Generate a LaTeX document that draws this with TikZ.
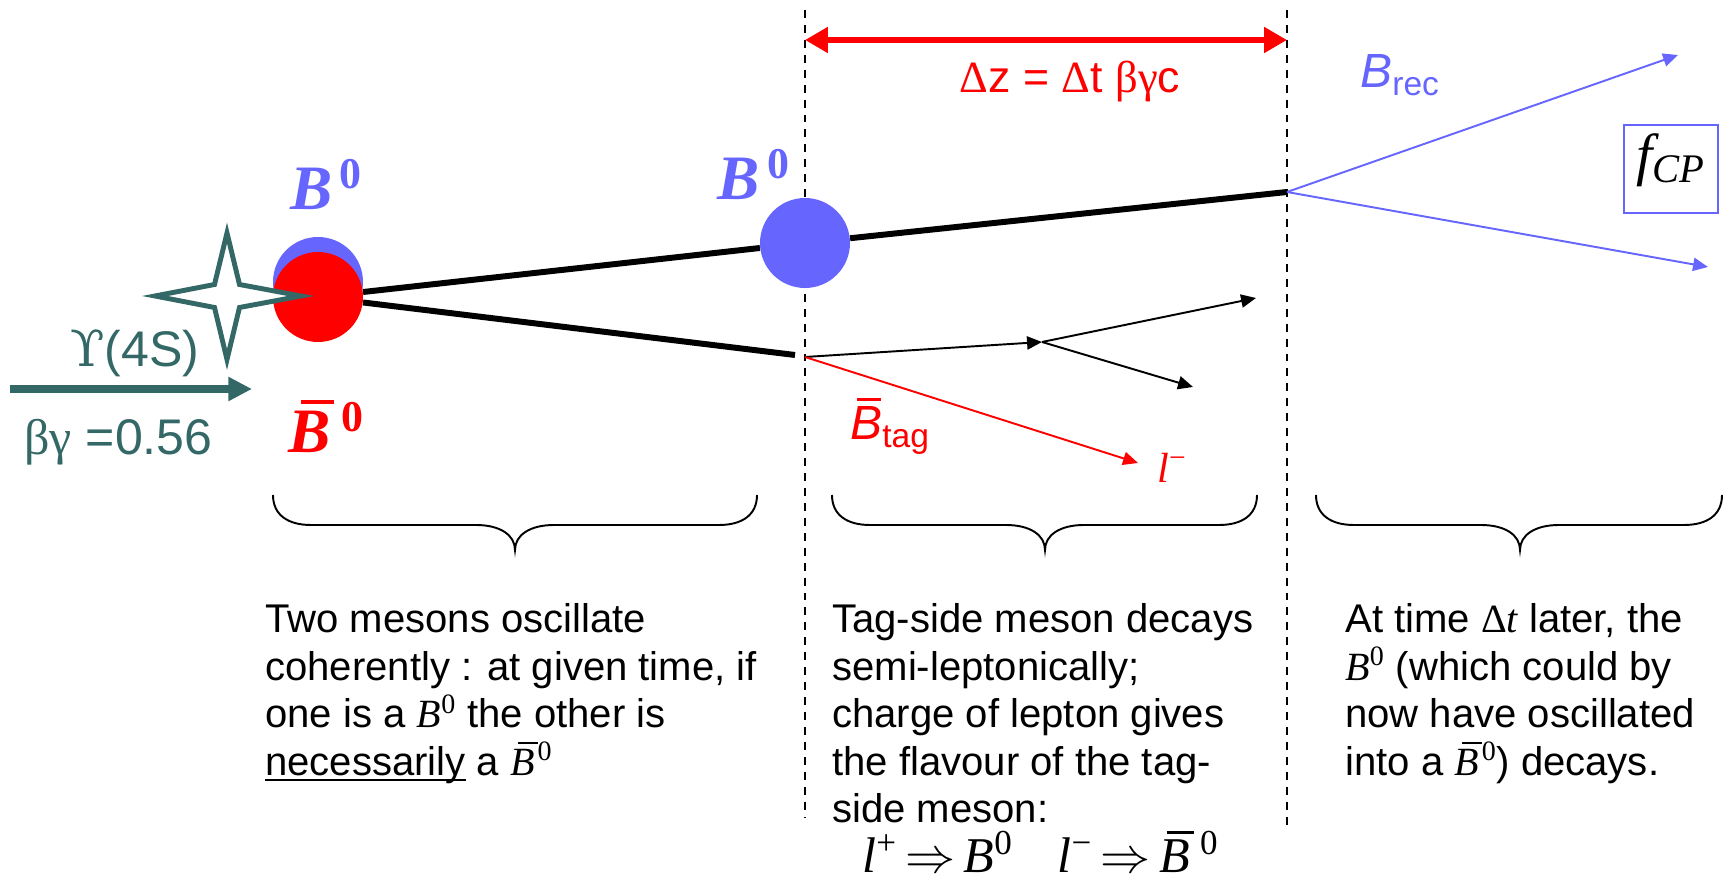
\RequirePackage{fix-cm}
\documentclass[tikz,border=0pt]{standalone}
\usepackage{fontspec}
\setmainfont{Liberation Sans}
\newfontfamily\tms{Liberation Serif}
\newfontfamily\dvs{DejaVu Serif}
\usetikzlibrary{arrows.meta}

\definecolor{bblue}{HTML}{6666FF}
\definecolor{ups}{RGB}{51,104,102}

% bar over a letter, moved right for italics
\newcommand{\obar}[3][.15em]{\vbox{\offinterlineskip\moveright#1\hbox{\vrule height.06em depth0pt width#2}\kern.12em\hbox{#3}}}
\newcommand{\undl}[1]{\setbox0\hbox{#1}\rlap{\vrule height-.1em depth.15em width\wd0}\box0\relax}
\newcommand{\Bz}{{\tms\itshape B}\textsuperscript{\tms 0}}
\newcommand{\Bbz}{\obar[.18em]{.5em}{\tms\itshape B}\textsuperscript{\tms 0}}

\begin{document}
\begin{tikzpicture}[>=Latex,
  tmark/.style={line width=1.1pt,dash pattern=on 4.5pt off 4pt},
  track/.style={line width=3.4pt},
  dk/.style={line width=1.1pt,-{Triangle[length=8.5pt,width=7.5pt]}},
  blob/.style={circle,minimum size=1.8cm,inner sep=0pt},
  curly/.style={line width=1.1pt},
  body/.style={anchor=north west,inner sep=0pt,align=left,font=\fontsize{22.8}{27}\selectfont}]
\useasboundingbox (0,0) rectangle (34.6,-17.68);

% time marks
\coordinate (tL1) at (16.1,-0.2);
\coordinate (tL2) at (16.1,-16.34);
\coordinate (tR1) at (25.74,-0.2);
\coordinate (tR2) at (25.74,-16.56);
\draw[tmark] (tL1)--(tL2);
\draw[tmark] (tR1)--(tR2);
\coordinate (dzL) at (16.1,-0.8);
\coordinate (dzR) at (25.74,-0.8);
\draw[red,line width=3.4pt,{Triangle[length=13pt,width=14pt]}-{Triangle[length=13pt,width=14pt]}] (dzL)--(dzR);
\node[text=red,font=\fontsize{25.4}{26}\selectfont] (dz) at (21.4,-1.64) {{\tms Δ}z = {\tms Δ}t {\tms βγ}c};

% mesons and tracks
\node[blob,fill=bblue] (b0a) at (6.36,-5.64) {};
\node[blob,fill=red] (b0b) at (6.36,-5.94) {};
\node[blob,fill=bblue] (b0c) at (16.1,-4.86) {};
\coordinate (vrec) at (25.74,-3.84);
\coordinate (tagend) at (15.9,-7.1);
\coordinate (vtag) at (16.1,-7.14);
\draw[track] (b0b)--(b0c);
\draw[track] (b0c)--(vrec);
\draw[track] (b0b)--(tagend);

% Upsilon(4S)
\draw[ups,line width=2.8pt,fill=white,shift={(4.54,-5.92)}] (0,1.26)--(0.25,0.23)--(1.48,0)--(0.25,-0.23)--(0,-1.27)--(-0.25,-0.23)--(-1.44,0)--(-0.25,0.23)--cycle;
\coordinate (bst) at (0.2,-7.78);
\coordinate (bend) at (5.04,-7.78);
\draw[ups,line width=4pt,-{Triangle[length=13.5pt,width=13pt]}] (bst)--(bend);
\node[text=ups,font=\fontsize{28.5}{29}\selectfont] (upsl) at (2.7,-7.06) {{\dvs ϒ}(4S)};
\node[text=ups,font=\fontsize{28.5}{29}\selectfont] (bgl) at (2.37,-8.84) {{\tms βγ} =0.56};

% decays
\coordinate (kink) at (20.84,-6.84);
\coordinate (jup) at (25.12,-5.96);
\coordinate (jdn) at (23.86,-7.74);
\coordinate (lep) at (22.76,-9.26);
\coordinate (recup) at (33.56,-1.1);
\coordinate (recdn) at (34.16,-5.34);
\draw[dk] (vtag)--(kink);
\draw[dk] (kink)--(jup);
\draw[dk] (kink)--(jdn);
\draw[dk,red] (vtag)--(lep);
\draw[dk,bblue] (vrec)--(recup);
\draw[dk,bblue] (vrec)--(recdn);

% labels
\node[anchor=base,text=bblue,font=\fontsize{36}{36}\selectfont\tms\bfseries\itshape] (lbB1) at (6.52,-4.2) {B\hspace{.12em}\raisebox{.34em}{\fontsize{25}{25}\selectfont\upshape 0}};
\node[anchor=base,text=bblue,font=\fontsize{36}{36}\selectfont\tms\bfseries\itshape] (lbB2) at (15.07,-4.0) {B\hspace{.12em}\raisebox{.34em}{\fontsize{25}{25}\selectfont\upshape 0}};
\node[anchor=base,text=red,font=\fontsize{36}{36}\selectfont\tms\bfseries\itshape] (lbB3) at (6.52,-9.06) {\obar[.2em]{.52em}{B}\hspace{.12em}\raisebox{.34em}{\fontsize{25}{25}\selectfont\upshape 0}};
\node[anchor=base west,inner sep=0pt,text=bblue,font=\fontsize{27.3}{28}\selectfont] (lbrec) at (27.2,-1.76) {{\itshape B}\textsubscript{rec}};
\node[anchor=base west,inner sep=0pt,text=red,font=\fontsize{27.3}{28}\selectfont] (lbtag) at (17.0,-8.8) {\obar[.14em]{.5em}{\itshape B}\textsubscript{tag}};
\node[anchor=base west,inner sep=0pt,text=red,font=\fontsize{24}{25}\selectfont\tms] (lblep) at (23.14,-9.66) {{\itshape l}\textsuperscript{−}};
\node[draw=bblue,line width=0.9pt,minimum width=1.88cm,minimum height=1.76cm,text height=.75em,text depth=.15em,font=\fontsize{33}{33}\selectfont\tms\itshape] (fcp) at (33.42,-3.38) {f\textsubscript{CP}};

% braces
\foreach \xa/\xm/\xb in {5.46/10.3/15.14,16.64/20.9/25.14,26.32/30.4/34.44}
  \draw[curly] (\xa,-9.9) .. controls (\xa,-10.3) and (\xa+0.3,-10.5) .. (\xa+0.76,-10.5) -- (\xm-0.78,-10.5)
    .. controls (\xm-0.3,-10.5) and (\xm,-10.7) .. (\xm,-11.0)
    .. controls (\xm,-10.7) and (\xm+0.3,-10.5) .. (\xm+0.78,-10.5) -- (\xb-0.76,-10.5)
    .. controls (\xb-0.3,-10.5) and (\xb,-10.3) .. (\xb,-9.9);

% explanations
\node[body] (txt1) at (5.3,-12.07) {Two mesons oscillate\\coherently : at given time, if\\one is a \Bz{} the other is\\\undl{necessarily} a \Bbz};
\node[body] (txt2) at (16.64,-12.07) {Tag-side meson decays\\semi-leptonically;\\charge of lepton gives\\the flavour of the tag-\\side meson:};
\node[body] (txt3) at (26.9,-12.07) {At time {\tms Δ\itshape t} later, the\\\Bz{} (which could by\\now have oscillated\\into a \Bbz) decays.};
\node[anchor=base west,inner sep=0pt,font=\fontsize{28.5}{29}\selectfont\tms] (flav) at (17.24,-17.46) {{\itshape l}\textsuperscript{+}\,$\Rightarrow$\,{\itshape B}\textsuperscript{0}\hspace{.9em}{\itshape l}\textsuperscript{−}\,$\Rightarrow$\,\obar[.15em]{.55em}{\itshape B}\textsuperscript{\,0}};
\end{tikzpicture}
\end{document}
